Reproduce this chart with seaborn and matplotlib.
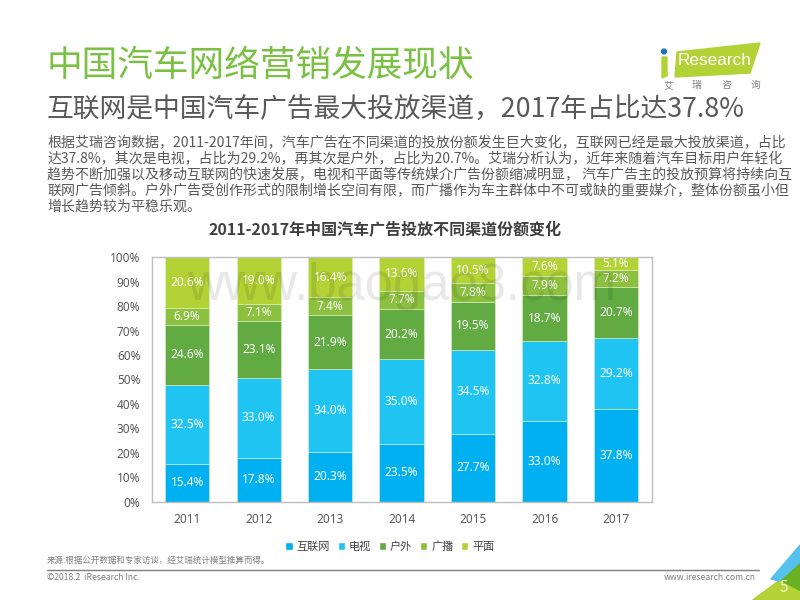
import pandas as pd
import matplotlib
matplotlib.use('Agg')
import matplotlib.pyplot as plt
from matplotlib.patches import Polygon, Circle, Patch
import seaborn as sns

YEARS = ['2011', '2012', '2013', '2014', '2015', '2016', '2017']
INTERNET = [15.4, 17.8, 20.3, 23.5, 27.7, 33.0, 37.8]
TV = [32.5, 33.0, 34.0, 35.0, 34.5, 32.8, 29.2]
OUTDOOR = [24.6, 23.1, 21.9, 20.2, 19.5, 18.7, 20.7]
RADIO = [6.9, 7.1, 7.4, 7.7, 7.8, 7.9, 7.2]
PRINT = [20.6, 19.0, 16.4, 13.6, 10.5, 7.6, 5.1]
SERIES = ['互联网', '电视', '户外', '广播', '平面']
COLORS = ['#00b0f0', '#1fc4f2', '#62ab43', '#8bc13f', '#b2d235']
YTICKS = [0, 10, 20, 30, 40, 50, 60, 70, 80, 90, 100]

TITLE = '中国汽车网络营销发展现状'
SUBTITLE = '互联网是中国汽车广告最大投放渠道，2017年占比达37.8%'
BODY = [
    '根据艾瑞咨询数据，2011-2017年间，汽车广告在不同渠道的投放份额发生巨大变化，互联网已经是最大投放渠道，占比',
    '达37.8%，其次是电视，占比为29.2%，再其次是户外，占比为20.7%。艾瑞分析认为，近年来随着汽车目标用户年轻化',
    '趋势不断加强以及移动互联网的快速发展，电视和平面等传统媒介广告份额缩减明显， 汽车广告主的投放预算将持续向互',
    '联网广告倾斜。户外广告受创作形式的限制增长空间有限，而广播作为车主群体中不可或缺的重要媒介，整体份额虽小但',
    '增长趋势较为平稳乐观。',
]
CHART_TITLE = '2011-2017年中国汽车广告投放不同渠道份额变化'
SOURCE = '来源:根据公开数据和专家访谈，经艾瑞统计模型推算而得。'

W, H = 800, 600
FONT = ['Noto Sans CJK SC', 'DejaVu Sans']

sns.set_theme(style='white')
plt.rcParams['font.family'] = FONT


def px(x, y):
    return x / W, 1 - y / H


def put(x, y, s, **kw):
    kw.setdefault('va', 'center')
    fig.text(*px(x, y), s, **kw)


fig = plt.figure(figsize=(8, 6), dpi=100)
ax = fig.add_axes([151.5 / W, 1 - 501.7 / H, 500.2 / W, 244.4 / H])

df = pd.DataFrame({'year': YEARS, '互联网': INTERNET, '电视': TV, '户外': OUTDOOR,
                   '广播': RADIO, '平面': PRINT})
bottom = pd.Series(0.0, index=df.index)
for name, color in zip(SERIES, COLORS):
    sns.barplot(data=df, x='year', y=name, ax=ax, color=color, bottom=bottom, width=0.62,
                saturation=1, edgecolor='#dfeecb', linewidth=0.4, zorder=2)
    bottom = bottom + df[name]

for cont in ax.containers:
    ax.bar_label(cont, fmt='%.1f%%', label_type='center', color='white', fontsize=8.5,
                 family=['Noto Sans', 'DejaVu Sans'], zorder=5)

ax.set_ylim(0, 100)
ax.set_xlim(-0.5, 6.5)
ax.set_xlabel('')
ax.set_ylabel('')
ax.set_yticks(YTICKS)
ax.set_yticklabels([f'{v}%' for v in YTICKS])
ax.tick_params(length=0, labelsize=8.5, labelcolor='#595959')
ax.tick_params(axis='y', pad=8)
ax.tick_params(axis='x', pad=8)
for lab in ax.get_xticklabels() + ax.get_yticklabels():
    lab.set_family(['Noto Sans', 'DejaVu Sans'])
for side, sp in ax.spines.items():
    sp.set_color('#bfbfbf')
    sp.set_linewidth(1.0)

handles = [Patch(facecolor=c, label=s) for s, c in zip(SERIES, COLORS)]
fig.legend(handles=handles, ncols=5, loc='center', bbox_to_anchor=(390 / W, 1 - 546.5 / H),
           frameon=False, fontsize=8, handlelength=0.65, handleheight=0.75, handletextpad=0.35,
           columnspacing=0.7, labelcolor='#404040', borderpad=0)

put(47, 66, TITLE, fontsize=25.7, color='#7ac143', weight='light')
put(47, 110.5, SUBTITLE, fontsize=19.3, color='#595959', weight='light')
for i, line in enumerate(BODY):
    put(47, 143 + i * 16, line, fontsize=10.05, color='#595959', weight='light')
put(385.5, 230.5, CHART_TITLE, fontsize=11.5, color='#404040', weight='bold', ha='center')
put(47, 560.5, SOURCE, fontsize=6.1, color='#7f7f7f')
put(47, 577.5, '©2018.2  iResearch Inc.', fontsize=6.2, color='#7f7f7f')
put(756, 577.5, 'www.iresearch.com.cn', fontsize=6.2, color='#7f7f7f', ha='right')

# watermark sits over the bars
put(401.5, 300, 'www.baogao8.com', fontsize=36.5, color='black', alpha=0.09, ha='center',
    va='baseline', family=['Liberation Sans'], zorder=3)

# overlay in pixel coordinates for the page furniture
deco = fig.add_axes([0, 0, 1, 1], zorder=-1)
deco.set_xlim(0, W)
deco.set_ylim(H, 0)
deco.axis('off')
deco.plot([47, 759], [570, 570], color='#7f7f7f', lw=1.0)
deco.add_patch(Polygon([(677, 52), (760, 43), (750, 73), (675, 77)], color='#b2d235'))
deco.add_patch(Circle((664, 51.5), 2.4, color='#1f6fb5'))
deco.add_patch(Polygon([(662, 57), (667, 57), (667, 76), (662, 78)], color='#b2d235'))
deco.add_patch(Polygon([(753, 600), (779, 581), (800, 562), (800, 600)], color='#6ab023'))
deco.add_patch(Polygon([(753, 600), (779, 581), (800, 592), (800, 600)], color='#b2d235'))
deco.add_patch(Polygon([(771, 579), (800, 545), (800, 562), (779, 581)], color='#56c1ee'))

put(678, 60.5, 'Research', fontsize=12.4, color='white', family=['Liberation Sans'])
for x, ch in zip([668, 696, 726, 755], '艾瑞咨询'):
    put(x, 84.7, ch, fontsize=7, color='#808080', ha='center')
put(784, 587, '5', fontsize=11, color='#eef6c8', ha='center')

fig.savefig('out.png', dpi=100)
